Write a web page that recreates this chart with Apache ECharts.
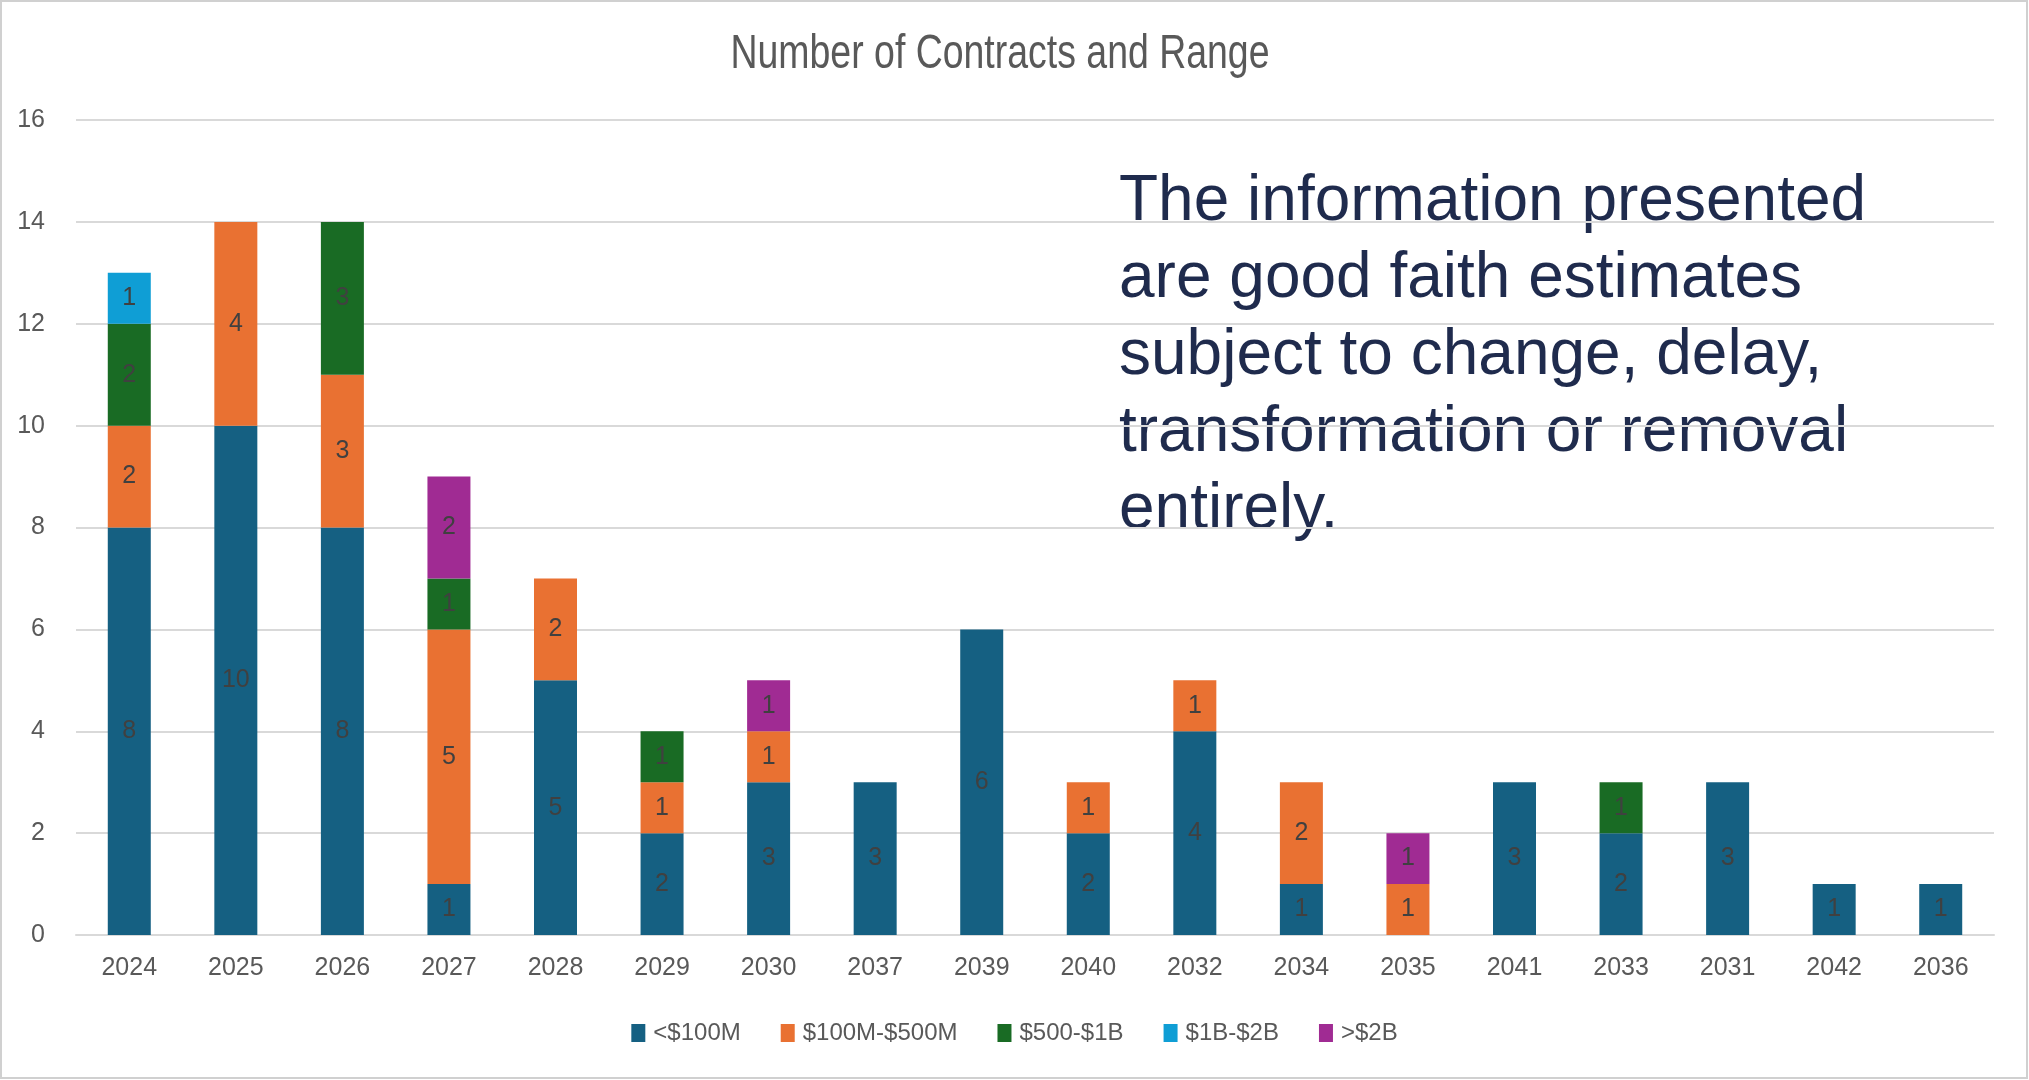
<!DOCTYPE html>
<html><head><meta charset="utf-8">
<script src="https://cdn.jsdelivr.net/npm/echarts@6/dist/echarts.min.js"></script>
<style>html,body{margin:0;padding:0;background:#fff}#c{width:2029px;height:1080px}</style>
</head><body><div id="c"></div>
<script>
const categories = ['2024','2025','2026','2027','2028','2029','2030','2037','2039','2040','2032','2034','2035','2041','2033','2031','2042','2036'];
const seriesNames = ['<$100M','$100M-$500M','$500-$1B','$1B-$2B','>$2B'];
const under100M = [8,10,8,1,5,2,3,3,6,2,4,1,null,3,2,3,1,1];
const m100to500 = [2,4,3,5,2,1,1,null,null,1,1,2,1,null,null,null,null,null];
const m500to1B = [2,null,3,1,null,1,null,null,null,null,null,null,null,null,1,null,null,null];
const b1to2 = [1,null,null,null,null,null,null,null,null,null,null,null,null,null,null,null,null,null];
const over2B = [null,null,null,2,null,null,1,null,null,null,null,null,1,null,null,null,null,null];
const colors = ['#156082','#E97132','#196B24','#0F9ED5','#A02B93'];
const yTicks = {min:0,max:16,interval:2};
const titleText = 'Number of Contracts and Range';
const noteText = 'The information presented\nare good faith estimates\nsubject to change, delay,\ntransformation or removal\nentirely.';

const FONT = '"Liberation Sans", Arial, sans-serif';
const chart = echarts.init(document.getElementById('c'), null, {renderer:'canvas'});
const allData = [under100M,m100to500,m500to1B,b1to2,over2B];
chart.setOption({
  animation:false,
  color: colors,
  grid:{left:76,right:35,top:120,bottom:145,containLabel:false},
  legend:{top:1016,left:'center',itemWidth:14,itemHeight:18,itemGap:40,icon:'rect',
    textStyle:{fontFamily:FONT,fontSize:24,color:'#595959',padding:[0,0,0,3]},data:seriesNames},
  xAxis:{type:'category',data:categories,axisTick:{show:false},
    axisLine:{lineStyle:{color:'#d9d9d9',width:2}},
    axisLabel:{fontFamily:FONT,fontSize:25,color:'#595959',margin:21}},
  yAxis:{type:'value',min:yTicks.min,max:yTicks.max,interval:yTicks.interval,
    axisLine:{show:false},axisTick:{show:false},
    splitLine:{lineStyle:{color:'#d9d9d9',width:2}},
    axisLabel:{fontFamily:FONT,fontSize:25,color:'#595959',margin:31}},
  series: seriesNames.map((n,i)=>({
    name:n,type:'bar',stack:'total',barWidth:43,data:allData[i],
    itemStyle:{color:colors[i]},
    label:{show:true,position:'inside',fontFamily:FONT,fontSize:25,color:'#404040',
      formatter:p=>p.value==null?'':String(p.value)}
  })),
  graphic:[
    {type:'rect',shape:{x:1,y:1,width:2026,height:1077},style:{fill:'none',stroke:'#d0d0d0',lineWidth:2},silent:true,z:-1},
    {type:'text',x:1000,y:55,scaleX:0.78,style:{text:titleText,font:'48px '+FONT,fill:'#595959',textAlign:'center',textVerticalAlign:'middle'}},
    {type:'text',left:1119,top:164,style:{text:noteText,font:'64px '+FONT,fill:'#1f2b4d',lineHeight:77}}
  ]
});
</script></body></html>
